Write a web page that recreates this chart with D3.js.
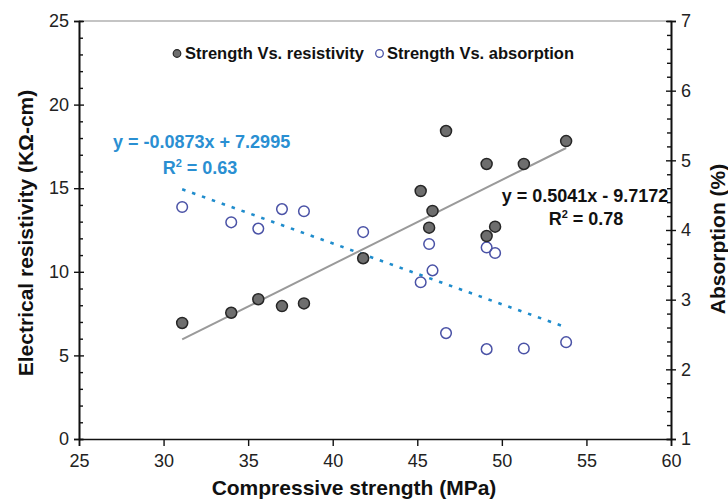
<!DOCTYPE html>
<html>
<head>
<meta charset="utf-8">
<script src="https://cdn.jsdelivr.net/npm/d3@7"></script>
<style>
  html, body { margin: 0; padding: 0; background: #fff; }
  svg { display: block; font-family: Arial, "Liberation Sans", sans-serif; }
</style>
</head>
<body>
<svg id="chart" width="728" height="501"></svg>
<script>
// Compressive strength (MPa) of each mix
const strength = [31.1, 34.0, 35.6, 37.0, 38.3, 41.8, 45.2, 45.7, 45.9, 46.7, 49.1, 49.1, 49.6, 51.3, 53.8];
// Electrical resistivity (kOhm-cm)
const resistivity = [6.94, 7.55, 8.36, 7.95, 8.11, 10.81, 14.83, 12.64, 13.64, 18.42, 16.45, 12.14, 12.70, 16.45, 17.82];
// Water absorption (%)
const absorption = [4.33, 4.11, 4.02, 4.30, 4.27, 3.97, 3.25, 3.80, 3.42, 2.52, 3.75, 2.29, 3.67, 2.30, 2.39];

// Linear fits
const fitResistivity = { slope: 0.5041, intercept: -9.7172, r2: "0.78" };
const fitAbsorption = { slope: -0.0873, intercept: 7.2995, r2: "0.63" };

const xTicks = [25, 30, 35, 40, 45, 50, 55, 60];
const yLeftTicks = [0, 5, 10, 15, 20, 25];
const yRightTicks = [1, 2, 3, 4, 5, 6, 7];

const svg = d3.select("#chart");
const L = 79, R = 671, T = 21, B = 439;

const x = d3.scaleLinear().domain([25, 60]).range([L, R]);
const yL = d3.scaleLinear().domain([0, 25]).range([B, T]);
const yR = d3.scaleLinear().domain([1, 7]).range([B, T]);

const axisColor = "#111";
const tickFont = 18;

// top frame line
svg.append("line")
  .attr("x1", L).attr("x2", R).attr("y1", T).attr("y2", T)
  .attr("stroke", "#8a8a8a").attr("stroke-width", 1.2);

function styleAxis(g) {
  g.select(".domain").attr("stroke", axisColor).attr("stroke-width", 1.6);
  g.selectAll(".tick line").attr("stroke", axisColor).attr("stroke-width", 1.4);
  g.selectAll(".tick text").attr("fill", "#222").style("font-size", tickFont + "px");
}

// bottom axis
const gx = svg.append("g").attr("transform", `translate(0,${B})`)
  .call(d3.axisBottom(x).tickValues(xTicks).tickSize(7).tickPadding(5).tickFormat(d3.format("d")));
styleAxis(gx);
gx.selectAll(".tick text").attr("dy", "0.9em");

// left axis: inner ticks every unit, outer ticks at labels
const gLin = svg.append("g").attr("transform", `translate(${L},0)`)
  .call(d3.axisRight(yL).tickValues(d3.range(0, 26, 1)).tickSize(4).tickFormat(""));
styleAxis(gLin);
gLin.selectAll(".tick line").filter(d => d % 5 === 0).attr("x2", 5);
const gL = svg.append("g").attr("transform", `translate(${L},0)`)
  .call(d3.axisLeft(yL).tickValues(yLeftTicks).tickSize(5).tickPadding(5).tickFormat(d3.format("d")));
styleAxis(gL);

// right axis: inner ticks every 0.2, crossing ticks at labels
const gRin = svg.append("g").attr("transform", `translate(${R},0)`)
  .call(d3.axisLeft(yR).tickValues(d3.range(1, 7.01, 0.2)).tickSize(4).tickFormat(""));
styleAxis(gRin);
gRin.selectAll(".tick line").filter(d => Math.abs(d - Math.round(d)) < 1e-6).attr("x2", -5);
const gR = svg.append("g").attr("transform", `translate(${R},0)`)
  .call(d3.axisRight(yR).tickValues(yRightTicks).tickSize(5).tickPadding(5).tickFormat(d3.format("d")));
styleAxis(gR);

// axis titles
const titleFont = "21px";
svg.append("text")
  .attr("x", 354).attr("y", 495)
  .attr("text-anchor", "middle")
  .style("font-size", titleFont).style("font-weight", "bold").attr("fill", "#111")
  .text("Compressive strength (MPa)");
svg.append("text")
  .attr("transform", `translate(33,233) rotate(-90)`)
  .attr("text-anchor", "middle")
  .style("font-size", titleFont).style("font-weight", "bold").attr("fill", "#111")
  .text("Electrical resistivity (KΩ-cm)");
svg.append("text")
  .attr("transform", `translate(725,239) rotate(-90)`)
  .attr("text-anchor", "middle")
  .style("font-size", titleFont).style("font-weight", "bold").attr("fill", "#111")
  .text("Absorption (%)");

// trend lines over the measured strength range
const xMin = d3.min(strength), xMax = d3.max(strength);
const lineRes = d3.line().x(d => x(d)).y(d => yL(fitResistivity.slope * d + fitResistivity.intercept));
const lineAbs = d3.line().x(d => x(d)).y(d => yR(fitAbsorption.slope * d + fitAbsorption.intercept));

svg.append("path").datum([xMin, xMax]).attr("d", lineRes)
  .attr("fill", "none").attr("stroke", "#9a9a9a").attr("stroke-width", 2);
svg.append("path").datum([xMin, xMax]).attr("d", lineAbs)
  .attr("fill", "none").attr("stroke", "#1f8ccc").attr("stroke-width", 2.6)
  .attr("stroke-dasharray", "3.5,7");

// absorption points (open circles)
svg.append("g").selectAll("circle").data(strength)
  .join("circle")
  .attr("cx", d => x(d)).attr("cy", (d, i) => yR(absorption[i]))
  .attr("r", 5.3)
  .attr("fill", "none").attr("stroke", "#4a52a6").attr("stroke-width", 1.5);

// resistivity points (filled circles)
svg.append("g").selectAll("circle").data(strength)
  .join("circle")
  .attr("cx", d => x(d)).attr("cy", (d, i) => yL(resistivity[i]))
  .attr("r", 5.5)
  .attr("fill", "#6e6e6e").attr("stroke", "#262626").attr("stroke-width", 1.5);

// legend
const legend = svg.append("g").style("font-size", "16.5px").style("font-weight", "bold").attr("fill", "#111");
legend.append("circle").attr("cx", 177).attr("cy", 53.5).attr("r", 3.8)
  .attr("fill", "#6e6e6e").attr("stroke", "#262626").attr("stroke-width", 1.2);
legend.append("text").attr("x", 185).attr("y", 59).text("Strength Vs. resistivity");
legend.append("circle").attr("cx", 379.5).attr("cy", 53.5).attr("r", 3.8)
  .attr("fill", "none").attr("stroke", "#4a52a6").attr("stroke-width", 1.3);
legend.append("text").attr("x", 387).attr("y", 59).text("Strength Vs. absorption");

// fit equations
const eqFont = "18px", supFont = "11px";
const eqAbs = svg.append("g").style("font-size", eqFont).style("font-weight", "bold").attr("fill", "#2a8fd2");
eqAbs.append("text").attr("x", 113).attr("y", 148)
  .text(`y = ${fitAbsorption.slope.toFixed(4)}x + ${fitAbsorption.intercept.toFixed(4)}`);
const r2a = eqAbs.append("text").attr("x", 200).attr("y", 174).attr("text-anchor", "middle");
r2a.append("tspan").text("R");
r2a.append("tspan").attr("dy", -7).style("font-size", supFont).text("2");
r2a.append("tspan").attr("dy", 7).text(` = ${fitAbsorption.r2}`);

const eqRes = svg.append("g").style("font-size", eqFont).style("font-weight", "bold").attr("fill", "#111");
eqRes.append("text").attr("x", 585).attr("y", 202).attr("text-anchor", "middle")
  .text(`y = ${fitResistivity.slope.toFixed(4)}x - ${Math.abs(fitResistivity.intercept).toFixed(4)}`);
const r2r = eqRes.append("text").attr("x", 586).attr("y", 225).attr("text-anchor", "middle");
r2r.append("tspan").text("R");
r2r.append("tspan").attr("dy", -7).style("font-size", supFont).text("2");
r2r.append("tspan").attr("dy", 7).text(` = ${fitResistivity.r2}`);
</script>
</body>
</html>
